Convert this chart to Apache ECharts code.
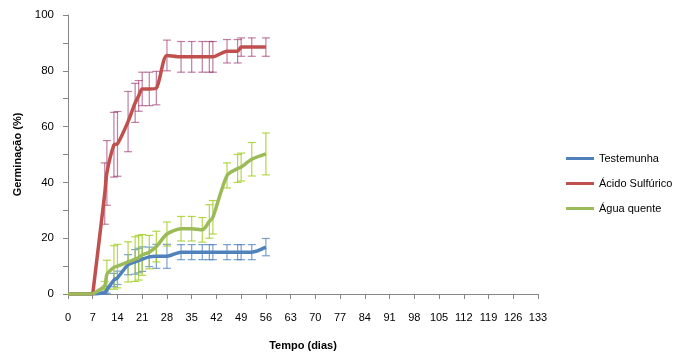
<!DOCTYPE html>
<html>
<head>
<meta charset="utf-8">
<script src="https://cdn.jsdelivr.net/npm/echarts@6/dist/echarts.min.js"></script>
<style>
  html, body { margin: 0; padding: 0; background: #fff; }
  #chart { width: 683px; height: 356px; }
</style>
</head>
<body>
<div id="chart"></div>
<script>
// dias de avaliação (compartilhados pelas três séries)
var dias = [0, 7, 10.4, 11, 13, 14, 17, 19, 20, 21, 23, 25, 28, 32, 35, 38, 40, 41, 45, 48, 49, 52, 56]

var testemunha = [0, 0, 0.5, 1.5, 5, 5.8, 10.5, 11.5, 12, 12.5, 13.3, 13.5, 13.5, 15, 15, 15, 15, 15, 15, 15, 15, 15, 16.8]
var testemunhaErro = [0, 0, 0.5, 1.2, 2.4, 2.4, 3.6, 4.4, 4.4, 4.4, 3.5, 4.3, 4.3, 2.7, 2.7, 2.7, 2.7, 2.7, 2.7, 2.7, 2.7, 2.7, 3.1]

var acido = [0, 0, 36, 43.4, 53.5, 53.8, 61.8, 68.5, 71, 73.5, 73.5, 73.8, 85.5, 85, 85, 85, 85, 85, 87, 87, 88.5, 88.5, 88.5]
var acidoErro = [0, 0, 11, 11.6, 11.6, 11.6, 10.8, 7, 5.5, 6, 6, 6, 5.5, 5.5, 5.5, 5.5, 5.5, 5.5, 4.2, 4.2, 3.3, 3.3, 3.3]

var agua = [0, 0, 3, 7, 9.5, 10, 11.5, 12.5, 13, 14, 15, 17, 21.5, 23.4, 23.4, 23, 26, 27.5, 42.5, 45, 45.5, 48.3, 50.2]
var aguaErro = [0, 0, 1.5, 5.1, 7.8, 7.8, 7.2, 8, 8, 7.3, 6, 5.5, 4.3, 4.4, 4.4, 4.4, 6, 6, 4.5, 5, 5, 6, 7.5]

var xTicks = { min: 0, max: 133, interval: 7 }
var yTicks = { min: 0, max: 100, interval: 10, labelStep: 20 }

var fonte = 'Liberation Sans'
// até o 7º dia não houve germinação: trecho reto, o resto suavizado
var inicio = 1

function pontos(valores) {
  return dias.map(function(d, i) { return [d, valores[i]] })
}

function barrasErro(valores, erros) {
  var out = []
  dias.forEach(function(d, i) {
    if (erros[i] > 0) out.push([d, valores[i] - erros[i], valores[i] + erros[i]])
  })
  return out
}

function serieErro(nome, valores, erros, cor) {
  return {
    name: 'erro ' + nome,
    type: 'custom',
    silent: true,
    z: 1,
    data: barrasErro(valores, erros),
    renderItem: function(params, api) {
      var x = api.value(0)
      var lo = api.coord([x, api.value(1)])
      var hi = api.coord([x, api.value(2)])
      var w = 4
      var estilo = { stroke: cor, lineWidth: 1.2 }
      return {
        type: 'group',
        children: [
          { type: 'line', shape: { x1: lo[0], y1: lo[1], x2: hi[0], y2: hi[1] }, style: estilo },
          { type: 'line', shape: { x1: lo[0] - w, y1: lo[1], x2: lo[0] + w, y2: lo[1] }, style: estilo },
          { type: 'line', shape: { x1: hi[0] - w, y1: hi[1], x2: hi[0] + w, y2: hi[1] }, style: estilo }
        ]
      }
    }
  }
}

function serieLinha(nome, dados, cor, suave) {
  return {
    name: nome,
    type: 'line',
    data: dados,
    smooth: suave,
    showSymbol: false,
    symbol: 'none',
    z: 3,
    lineStyle: { color: cor, width: 3.5 },
    itemStyle: { color: cor }
  }
}

function series(nome, valores, erros, corLinha, corErro) {
  var p = pontos(valores)
  return [
    serieErro(nome, valores, erros, corErro),
    serieLinha('base ' + nome, p.slice(0, inicio + 1), corLinha, false),
    serieLinha(nome, p.slice(inicio), corLinha, 0.25)
  ]
}

var chart = echarts.init(document.getElementById('chart'))
chart.setOption({
  animation: false,
  textStyle: { fontFamily: fonte },
  grid: { left: 68, right: 145, top: 15, bottom: 61 },
  legend: {
    orient: 'vertical',
    left: 566,
    top: 153,
    padding: 0,
    itemGap: 14,
    itemWidth: 28,
    itemHeight: 3,
    icon: 'rect',
    data: ['Testemunha', 'Ácido Sulfúrico', 'Água quente'],
    textStyle: { fontFamily: fonte, fontSize: 11, color: '#000' }
  },
  xAxis: {
    type: 'value',
    min: xTicks.min,
    max: xTicks.max,
    interval: xTicks.interval,
    name: 'Tempo (dias)',
    nameLocation: 'middle',
    nameGap: 46,
    nameTextStyle: { fontFamily: fonte, fontSize: 11, fontWeight: 'bold', color: '#000' },
    axisLine: { lineStyle: { color: '#868686', width: 1 } },
    axisTick: { show: true, length: 5, lineStyle: { color: '#868686' } },
    axisLabel: { margin: 18, fontSize: 11, color: '#000', fontFamily: fonte },
    splitLine: { show: false }
  },
  yAxis: {
    type: 'value',
    min: yTicks.min,
    max: yTicks.max,
    interval: yTicks.interval,
    name: 'Germinação (%)',
    nameLocation: 'middle',
    nameGap: 44,
    nameTextStyle: { fontFamily: fonte, fontSize: 11, fontWeight: 'bold', color: '#000' },
    axisLine: { show: true, lineStyle: { color: '#868686', width: 1 } },
    axisTick: { show: true, length: 5, lineStyle: { color: '#868686' } },
    axisLabel: {
      margin: 14,
      fontSize: 11.5,
      color: '#000',
      fontFamily: fonte,
      formatter: function(v) { return v % yTicks.labelStep === 0 ? String(v) : '' }
    },
    splitLine: { show: false }
  },
  series: [].concat(
    series('Testemunha', testemunha, testemunhaErro, '#4F81BD', 'rgba(79,129,189,0.75)'),
    series('Ácido Sulfúrico', acido, acidoErro, '#C0504D', 'rgba(150,40,100,0.6)'),
    series('Água quente', agua, aguaErro, '#9BBB59', 'rgba(160,205,30,0.8)')
  )
})
</script>
</body>
</html>
